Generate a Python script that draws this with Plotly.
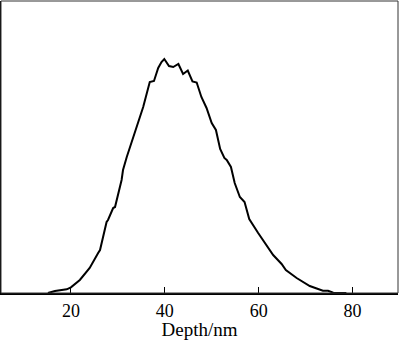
import plotly.graph_objects as go

depth_nm = [15.1, 16.6, 19.1, 20.0, 21.9, 24.0, 25.8, 26.2, 27.6, 27.9, 29.0, 29.4,
            30.8, 31.1, 31.9, 34.0, 35.4, 36.8, 37.7, 38.6, 39.3, 39.9, 40.9, 41.8,
            42.9, 43.9, 44.9, 45.9, 46.8, 47.8, 48.9, 50.0, 50.9, 51.8, 52.7, 53.2,
            54.1, 54.9, 56.0, 57.0, 58.0, 59.9, 61.7, 63.1, 64.1, 64.9, 65.8, 68.1,
            70.9, 73.7, 74.8, 75.9, 78.7]
counts = [0, 2, 3.7, 5.7, 13, 25, 40, 43, 71, 73, 85, 86,
          113, 123, 136, 166, 186, 211, 212, 225, 231, 234, 227, 226,
          229, 219, 222.5, 211.5, 210.5, 196, 185, 170, 163, 144, 135, 133,
          126, 110, 96, 91, 74, 60, 47, 38, 33, 29, 23, 15,
          7, 2.3, 2.3, 0.3, 0]
x_ticks = [20, 40, 60, 80]

fig = go.Figure()
fig.add_trace(go.Scatter(x=depth_nm, y=counts, mode="lines",
                         line=dict(color="black", width=2), showlegend=False))

serif = "Liberation Serif, Times New Roman, serif"
fig.update_layout(
    width=400, height=340,
    margin=dict(l=1, r=2, t=1, b=47),
    plot_bgcolor="white", paper_bgcolor="white",
    font=dict(family=serif, size=18, color="black"),
    xaxis=dict(range=[5.1, 89.7], tickvals=x_ticks, ticks="inside", ticklen=6,
               tickwidth=1, tickcolor="black", showgrid=False, zeroline=False,
               showline=True, linecolor="black", linewidth=2, automargin=False,
               title=dict(text="Depth/nm", font=dict(family=serif, size=19), standoff=4),
               tickfont=dict(family=serif, size=18)),
    yaxis=dict(range=[0, 292], showticklabels=False, ticks="", showgrid=False,
               zeroline=False, showline=True, linecolor="black", linewidth=2,
               automargin=False),
    shapes=[dict(type="rect", xref="paper", yref="paper", x0=0, y0=0, x1=1, y1=1,
                 line=dict(color="#333333", width=1), layer="above")],
)
fig.write_html("out.html", config={"displayModeBar": False},
               post_script="document.body.style.margin='0';")
